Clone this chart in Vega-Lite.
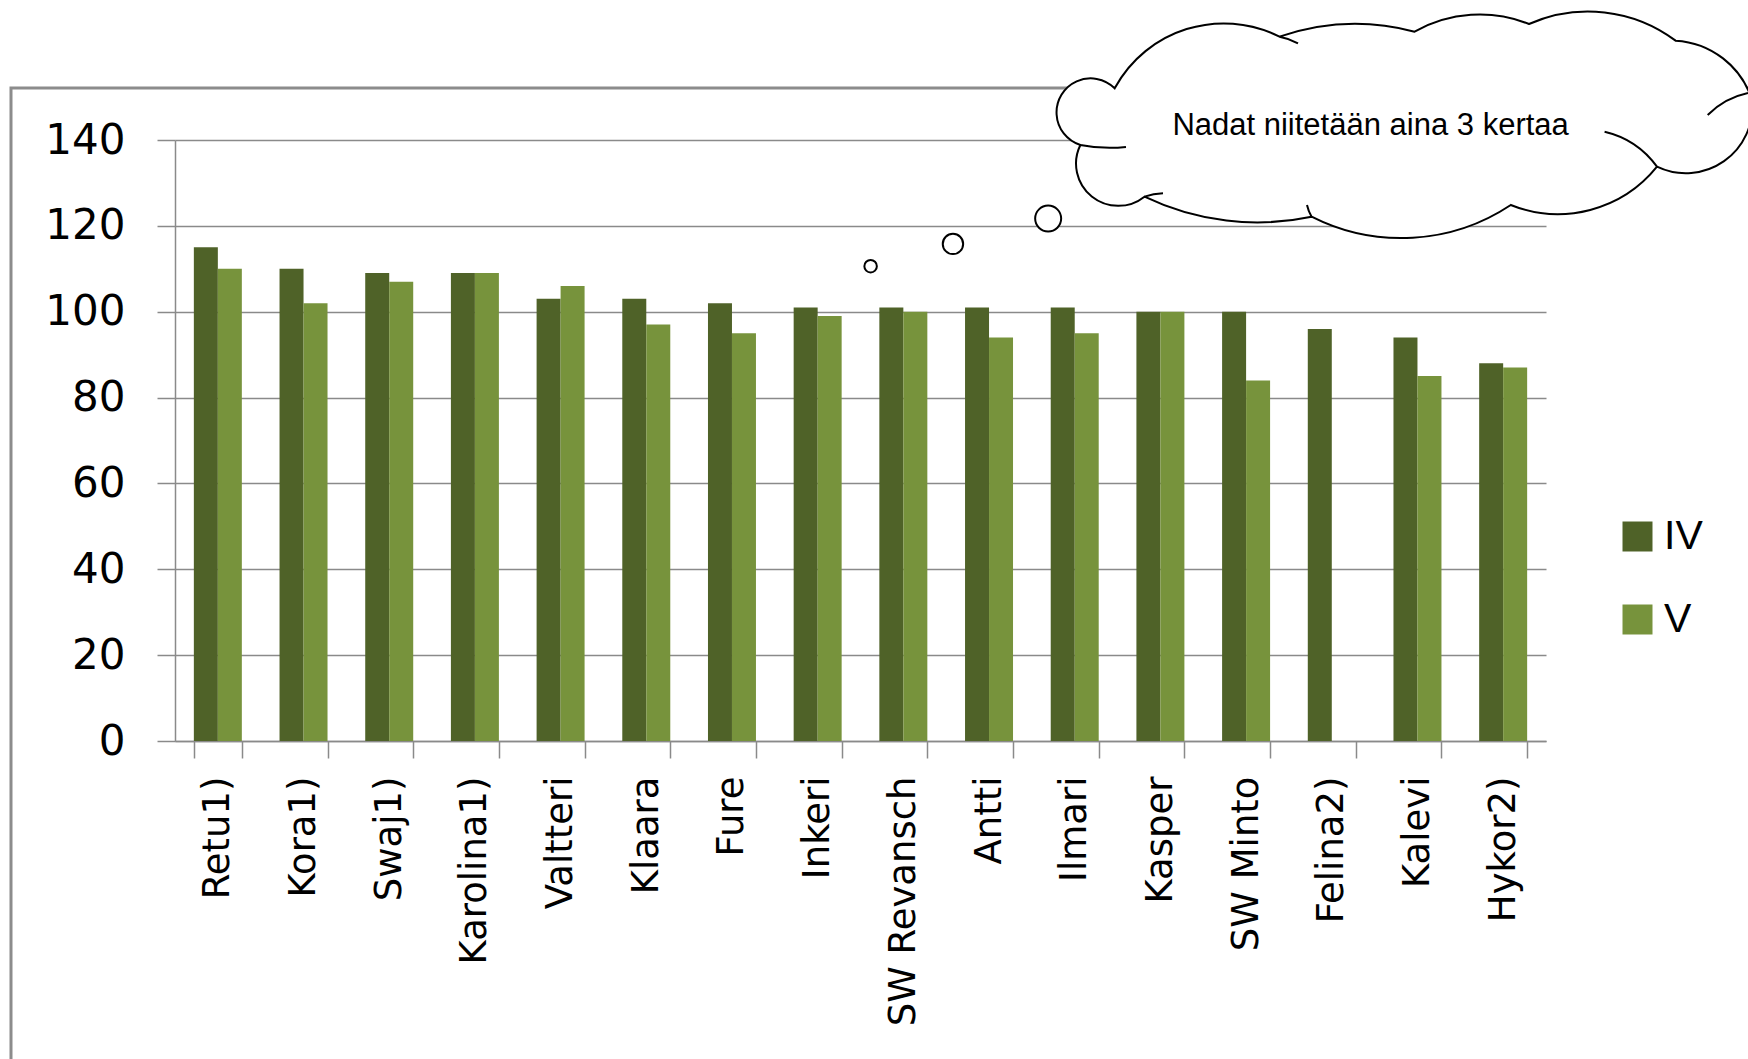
{
  "$schema": "https://vega.github.io/schema/vega-lite/v6.json",
  "width": 1371,
  "height": 601,
  "autosize": {"type": "none"},
  "padding": {"left": 175, "top": 140, "right": 202, "bottom": 318},
  "background": "white",
  "config": {"view": {"stroke": null}},
  "layer": [
    {
      "data": {"values": [
        {"name": "Retu1)", "series": "IV", "value": 115}, {"name": "Retu1)", "series": "V", "value": 110},
        {"name": "Kora1)", "series": "IV", "value": 110}, {"name": "Kora1)", "series": "V", "value": 102},
        {"name": "Swaj1)", "series": "IV", "value": 109}, {"name": "Swaj1)", "series": "V", "value": 107},
        {"name": "Karolina1)", "series": "IV", "value": 109}, {"name": "Karolina1)", "series": "V", "value": 109},
        {"name": "Valtteri", "series": "IV", "value": 103}, {"name": "Valtteri", "series": "V", "value": 106},
        {"name": "Klaara", "series": "IV", "value": 103}, {"name": "Klaara", "series": "V", "value": 97},
        {"name": "Fure", "series": "IV", "value": 102}, {"name": "Fure", "series": "V", "value": 95},
        {"name": "Inkeri", "series": "IV", "value": 101}, {"name": "Inkeri", "series": "V", "value": 99},
        {"name": "SW Revansch", "series": "IV", "value": 101}, {"name": "SW Revansch", "series": "V", "value": 100},
        {"name": "Antti", "series": "IV", "value": 101}, {"name": "Antti", "series": "V", "value": 94},
        {"name": "Ilmari", "series": "IV", "value": 101}, {"name": "Ilmari", "series": "V", "value": 95},
        {"name": "Kasper", "series": "IV", "value": 100}, {"name": "Kasper", "series": "V", "value": 100},
        {"name": "SW Minto", "series": "IV", "value": 100}, {"name": "SW Minto", "series": "V", "value": 84},
        {"name": "Felina2)", "series": "IV", "value": 96},
        {"name": "Kalevi", "series": "IV", "value": 94}, {"name": "Kalevi", "series": "V", "value": 85},
        {"name": "Hykor2)", "series": "IV", "value": 88}, {"name": "Hykor2)", "series": "V", "value": 87}
      ]},
      "mark": {"type": "bar"},
      "encoding": {
        "x": {
          "field": "name", "type": "nominal",
          "sort": ["Retu1)", "Kora1)", "Swaj1)", "Karolina1)", "Valtteri", "Klaara", "Fure", "Inkeri", "SW Revansch", "Antti", "Ilmari", "Kasper", "SW Minto", "Felina2)", "Kalevi", "Hykor2)"],
          "scale": {"paddingInner": 0.44, "paddingOuter": 0.22},
          "axis": {
            "title": null, "labelAngle": -90, "labelFont": "DejaVu Sans", "labelFontSize": 37, "labelLimit": 600,
            "labelColor": "black", "tickBand": "extent", "tickSize": 17, "tickColor": "#8a8a8a",
            "tickWidth": 1.5, "domainColor": "#8a8a8a", "domainWidth": 1.5, "labelPadding": 18, "grid": false
          }
        },
        "xOffset": {"field": "series", "type": "nominal", "sort": ["IV", "V"]},
        "y": {
          "field": "value", "type": "quantitative",
          "scale": {"domain": [0, 140], "nice": false},
          "axis": {
            "title": null, "values": [0, 20, 40, 60, 80, 100, 120, 140], "grid": true,
            "gridColor": "#8a8a8a", "gridWidth": 1.5, "tickSize": 18, "tickColor": "#8a8a8a", "tickWidth": 1.5,
            "domainColor": "#8a8a8a", "domainWidth": 1.5, "labelFont": "DejaVu Sans", "labelFontSize": 42,
            "labelColor": "black", "labelPadding": 32
          }
        },
        "color": {
          "field": "series", "type": "nominal",
          "scale": {"domain": ["IV", "V"], "range": ["#4F6228", "#77933C"]},
          "legend": {
            "title": null, "orient": "none", "legendX": 1442, "legendY": 376, "padding": 0,
            "symbolType": "square", "symbolSize": 900, "symbolStrokeWidth": 0,
            "labelFont": "Liberation Sans", "labelFontSize": 41, "labelColor": "black",
            "labelOffset": 6, "rowPadding": 41
          }
        }
      }
    },
    {
      "layer": [
        {
          "data": {"values": [{"x": -1.914, "x2": 20, "y": 152.1, "y2": -80}]},
          "mark": {"type": "rect", "fill": null, "fillOpacity": 0, "stroke": "#8c8c8c", "strokeWidth": 3},
          "encoding": {
            "x": {"field": "x", "type": "quantitative", "scale": {"domain": [0, 16], "nice": false, "zero": false}, "axis": null},
            "x2": {"field": "x2"},
            "y": {"field": "y", "type": "quantitative", "scale": {"domain": [0, 140], "nice": false, "zero": false}, "axis": null},
            "y2": {"field": "y2"}
          }
        },
        {
          "data": {"values": [{"x": 14.296, "y": 143.5}]},
          "mark": {
            "type": "point", "filled": true, "fill": "white", "fillOpacity": 1, "stroke": "black", "strokeWidth": 2, "opacity": 1, "size": 4,
            "shape": "M -285.3 -36.7 A 124 124 0 0 1 -120.5 -88.3 A 233 233 0 0 1 14.6 -93.3 A 133 133 0 0 1 129 -101 A 146 146 0 0 1 275.6 -84.3 A 85 85 0 0 1 352 -25 A 66.5 66.5 0 0 1 257 41.7 A 127 127 0 0 1 110.8 80 A 198 198 0 0 1 -88.4 91.7 A 260 260 0 0 1 -255.5 71.7 A 42.2 42.2 0 0 1 -319.6 20 A 34.1 34.1 0 1 1 -285.3 -36.7 Z M -319.6 20 A 150 150 0 0 0 -274 22 M -120.5 -88.3 A 60 60 0 0 1 -102 -81.7 M 348 -32 A 80 80 0 0 0 307.7 -10 M 257 41.7 A 90 90 0 0 0 204.6 6.7 M -255.5 71.7 A 60 60 0 0 1 -237 68.3 M -88.4 91.7 A 40 40 0 0 1 -93 80"
          },
          "encoding": {
            "x": {"field": "x", "type": "quantitative", "scale": {"domain": [0, 16], "nice": false, "zero": false}, "axis": null},
            "y": {"field": "y", "type": "quantitative", "scale": {"domain": [0, 140], "nice": false, "zero": false}, "axis": null}
          }
        },
        {
          "data": {"values": [
            {"x": 8.118, "y": 110.6, "bubble": "small"},
            {"x": 9.079, "y": 115.8, "bubble": "medium"},
            {"x": 10.19, "y": 121.7, "bubble": "large"}
          ]},
          "mark": {"type": "point", "shape": "circle", "filled": true, "fill": "white", "fillOpacity": 1, "stroke": "black", "strokeWidth": 2, "opacity": 1},
          "encoding": {
            "x": {"field": "x", "type": "quantitative", "scale": {"domain": [0, 16], "nice": false, "zero": false}, "axis": null},
            "y": {"field": "y", "type": "quantitative", "scale": {"domain": [0, 140], "nice": false, "zero": false}, "axis": null},
            "size": {"field": "bubble", "type": "ordinal", "scale": {"domain": ["small", "medium", "large"], "range": [156, 676, 1444]}, "legend": null}
          }
        },
        {
          "data": {"values": [{"x": 13.953, "y": 143.2, "label": "Nadat niitetään aina 3 kertaa"}]},
          "mark": {"type": "text", "font": "Liberation Sans", "fontSize": 31, "color": "black", "align": "center", "baseline": "middle"},
          "encoding": {
            "x": {"field": "x", "type": "quantitative", "scale": {"domain": [0, 16], "nice": false, "zero": false}, "axis": null},
            "y": {"field": "y", "type": "quantitative", "scale": {"domain": [0, 140], "nice": false, "zero": false}, "axis": null},
            "text": {"field": "label"}
          }
        }
      ]
    }
  ],
  "resolve": {"scale": {"x": "independent", "y": "independent", "size": "independent"}}
}
